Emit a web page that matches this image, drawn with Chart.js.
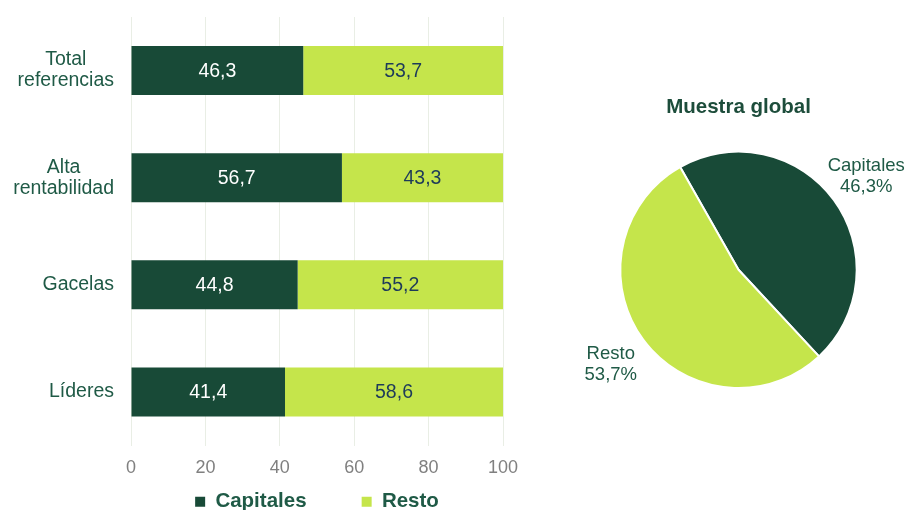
<!DOCTYPE html>
<html lang="es">
<head>
  <meta charset="UTF-8">
  <title>Capitales vs Resto</title>
  <script src="https://cdn.jsdelivr.net/npm/chart.js"></script>
  <style>
    body { margin: 0; background: #fff; font-family: "Liberation Sans", Arial, sans-serif; }
    #wrap { position: relative; width: 911px; height: 510px; }
    #barBox { position: absolute; left: 0; top: 0; width: 540px; height: 510px; }
    #pieBox { position: absolute; left: 560px; top: 0; width: 351px; height: 510px; }
  </style>
</head>
<body>
<div id="wrap">
  <div id="barBox"><canvas id="barChart"></canvas></div>
  <div id="pieBox"><canvas id="pieChart"></canvas></div>
</div>

<script>
const categories = [["Total", "referencias"], ["Alta", "rentabilidad"], ["Gacelas"], ["Líderes"]];
const capitales = [46.3, 56.7, 44.8, 41.4];
const resto = [53.7, 43.3, 55.2, 58.6];
const seriesNames = ["Capitales", "Resto"];
const pieTitle = "Muestra global";
const pieValues = [46.3, 53.7];

const darkGreen = "#184a37";
const lightGreen = "#c5e54b";
const labelGreen = "#1f5a46";
const FONT = "'Liberation Sans', Arial, sans-serif";

const fmt = v => v.toFixed(1).replace(".", ",");

// valores dentro de las barras
const barValues = {
  id: "barValues",
  afterDatasetsDraw(chart) {
    const ctx = chart.ctx;
    ctx.save();
    ctx.font = "19.5px " + FONT;
    ctx.textAlign = "center";
    ctx.textBaseline = "middle";
    chart.data.datasets.forEach((ds, di) => {
      chart.getDatasetMeta(di).data.forEach((bar, i) => {
        ctx.fillStyle = di === 0 ? "#ffffff" : "#1d3a5a";
        ctx.fillText(fmt(ds.data[i]), (bar.x + bar.base) / 2, bar.y + 1);
      });
    });
    ctx.restore();
  }
};

// etiquetas de categoría: bloque alineado a la derecha, líneas centradas
const catLabels = {
  id: "catLabels",
  afterDraw(chart) {
    const ctx = chart.ctx;
    const y = chart.scales.y;
    const right = 114;
    const lh = 21;
    ctx.save();
    ctx.font = "19.5px " + FONT;
    ctx.fillStyle = labelGreen;
    ctx.textAlign = "center";
    ctx.textBaseline = "middle";
    categories.forEach((lines, i) => {
      const w = Math.max(...lines.map(l => ctx.measureText(l).width));
      const cx = right - w / 2;
      const cy = y.getPixelForTick(i);
      lines.forEach((l, k) => {
        ctx.fillText(l, cx, cy + (k - (lines.length - 1) / 2) * lh);
      });
    });
    ctx.restore();
  }
};

new Chart(document.getElementById("barChart"), {
  type: "bar",
  data: {
    labels: categories,
    datasets: [
      { label: seriesNames[0], data: capitales, backgroundColor: darkGreen },
      { label: seriesNames[1], data: resto, backgroundColor: lightGreen }
    ]
  },
  options: {
    indexAxis: "y",
    responsive: true,
    maintainAspectRatio: false,
    animation: false,
    barPercentage: 0.458,
    categoryPercentage: 1,
    layout: { padding: { left: 0, right: 37, top: 17, bottom: -12 } },
    plugins: {
      tooltip: { enabled: false },
      legend: {
        position: "bottom",
        fullSize: false,
        labels: {
          boxWidth: 10,
          boxHeight: 10,
          padding: 10,
          color: labelGreen,
          font: { family: FONT, size: 20.5, weight: "bold" },
          generateLabels(chart) {
            const items = Chart.defaults.plugins.legend.labels.generateLabels(chart);
            items[0].text = items[0].text + "\u2003\u2003\u2009";
            return items;
          }
        }
      }
    },
    scales: {
      x: {
        stacked: true,
        min: 0,
        max: 100,
        ticks: { stepSize: 20, color: "#808080", padding: 12, font: { family: FONT, size: 18 } },
        grid: { color: "#e9eee5", drawTicks: false },
        border: { display: false },
        afterFit(scale) { scale.height = 36; }
      },
      y: {
        stacked: true,
        ticks: { color: "rgba(0,0,0,0)", font: { family: FONT, size: 17 } },
        grid: { display: false },
        border: { display: false },
        afterFit(scale) { scale.width = 131; }
      }
    }
  },
  plugins: [barValues, catLabels]
});

// etiquetas exteriores del gráfico de tarta
const pieLabelsPlugin = {
  id: "pieLabels",
  afterDraw(chart) {
    const ctx = chart.ctx;
    ctx.save();
    ctx.font = "18.5px " + FONT;
    ctx.fillStyle = labelGreen;
    ctx.textAlign = "center";
    ctx.textBaseline = "middle";
    chart.getDatasetMeta(0).data.forEach((arc, i) => {
      const mid = (arc.startAngle + arc.endAngle) / 2;
      const r = arc.outerRadius * 1.34;
      const x = arc.x + Math.cos(mid) * r;
      const y = arc.y + Math.sin(mid) * r;
      ctx.fillText(seriesNames[i], x, y - 10);
      ctx.fillText(fmt(pieValues[i]) + "%", x, y + 11);
    });
    ctx.restore();
  }
};

new Chart(document.getElementById("pieChart"), {
  type: "pie",
  data: {
    labels: seriesNames,
    datasets: [{
      data: pieValues,
      backgroundColor: [darkGreen, lightGreen],
      borderColor: "#ffffff",
      borderWidth: 2
    }]
  },
  options: {
    responsive: true,
    maintainAspectRatio: false,
    animation: false,
    rotation: -29.6,
    layout: { padding: { left: 59, right: 53, top: 0, bottom: 121 } },
    plugins: {
      legend: { display: false },
      tooltip: { enabled: false },
      title: {
        display: true,
        text: pieTitle,
        color: "#1d4d3b",
        font: { family: FONT, size: 20.5, weight: "bold" },
        padding: { top: 95, bottom: 31 }
      }
    }
  },
  plugins: [pieLabelsPlugin]
});
</script>
</body>
</html>
